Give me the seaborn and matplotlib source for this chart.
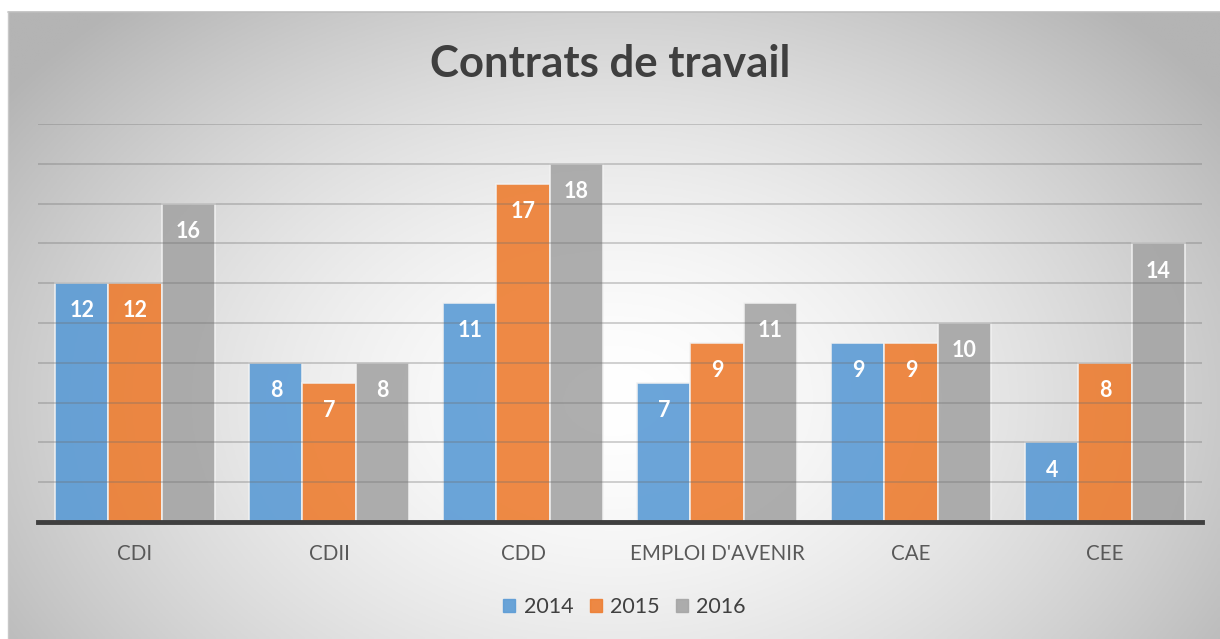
import matplotlib
matplotlib.use("Agg")
import matplotlib.pyplot as plt
import seaborn as sns
import numpy as np
import pandas as pd

categories = ["CDI", "CDII", "CDD", "EMPLOI D'AVENIR", "CAE", "CEE"]
years = ["2014", "2015", "2016"]
v2014 = [12, 8, 11, 7, 9, 4]
v2015 = [12, 7, 17, 9, 9, 8]
v2016 = [16, 8, 18, 11, 10, 14]
colors = ["#5B9BD5", "#ED7D31", "#A5A5A5"]

df = pd.DataFrame({
    "contrat": categories * 3,
    "annee": [y for y in years for _ in categories],
    "valeur": v2014 + v2015 + v2016,
})

sns.set_theme(style="white")
plt.rcParams["font.family"] = ["Lato", "DejaVu Sans"]

W, H = 1220, 639
fig = plt.figure(figsize=(W / 100, H / 100), dpi=100, facecolor="white")

# radial grey background of the chart area
bg = fig.add_axes([8 / W, 0, 1 - 8 / W, 1 - 12 / H], zorder=-2)
xx, yy = np.meshgrid(np.linspace(0, 1, 400), np.linspace(0, 1, 220))
d = np.sqrt(((xx - 0.5) / 0.55) ** 2 + ((yy - 0.62) / 0.75) ** 2)
g = np.clip(255 - 62 * d ** 1.6, 180, 255) / 255
bg.imshow(np.dstack([g, g, g]), extent=[0, 1, 0, 1], aspect="auto", origin="upper")
bg.set_axis_off()
fig.add_artist(plt.Line2D([8 / W, 1], [1 - 12 / H, 1 - 12 / H], color="#bdbdbd", lw=1.2))
fig.add_artist(plt.Line2D([8 / W, 8 / W], [0, 1 - 12 / H], color="#c8c8c8", lw=1.0))

ax = fig.add_axes([38 / W, 1 - 522 / H, (1202 - 38) / W, (522 - 124) / H])
ax.patch.set_alpha(0)

sns.barplot(data=df, x="contrat", y="valeur", hue="annee", palette=colors,
            saturation=1, width=0.82, ax=ax, edgecolor="#f2f2f2", linewidth=1.2,
            alpha=0.9, legend=True)

ax.set_ylim(0, 20)
ax.set_xlim(-0.5, len(categories) - 0.5)
ax.set_yticks(np.arange(2, 21, 2))
ax.yaxis.grid(True, color="#6e6e6e", alpha=0.4, lw=1.1)
ax.set_axisbelow(False)
ax.set_yticklabels([])
ax.tick_params(axis="y", length=0)
ax.tick_params(axis="x", length=0, pad=16, labelsize=14.8, labelcolor="#595959")
ax.set_xlabel("")
ax.set_ylabel("")
for s in ["top", "right", "left"]:
    ax.spines[s].set_visible(False)
ax.spines["bottom"].set_color("#3f3f3f")
ax.spines["bottom"].set_linewidth(3.5)
ax.spines["bottom"].set_zorder(5)

for cont in ax.containers:
    labels = ax.bar_label(cont, padding=-20, color="white", fontsize=15.5,
                          fontweight="bold")
    for t in labels:
        t.set_va("center")

leg = ax.get_legend()
leg.remove()
handles = [plt.Rectangle((0, 0), 1, 1, color=c, alpha=0.9) for c in colors]
fig.legend(handles, years, loc="center", bbox_to_anchor=(0.512, 1 - 607 / H), ncol=3,
           frameon=False, fontsize=15.5, handlelength=0.55, handleheight=0.55,
           handletextpad=0.4, columnspacing=0.75, labelcolor="#404040")

fig.text(0.5, 1 - 64 / H, "Contrats de travail", ha="center", va="center",
         fontsize=31.5, fontweight="bold", color="#3f3f3f")

fig.savefig("out.png", dpi=100)
